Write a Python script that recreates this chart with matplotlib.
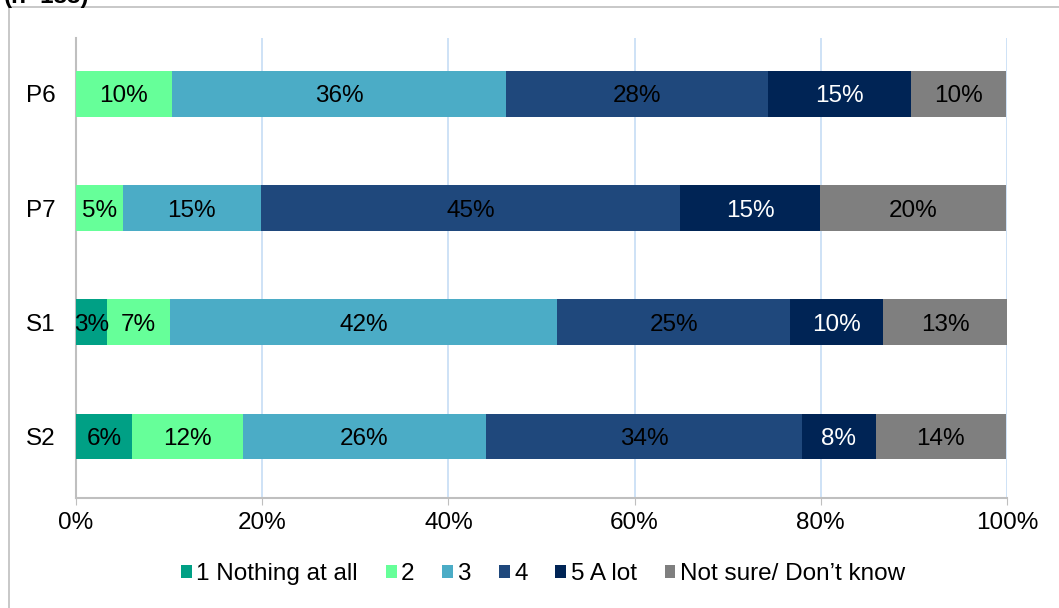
import matplotlib
matplotlib.use("Agg")
import matplotlib.pyplot as plt
from matplotlib.patches import Rectangle, Patch

plt.rcParams['font.family'] = ['Liberation Sans', 'DejaVu Sans']

categories = ["P6", "P7", "S1", "S2"]
series_names = ["1 Nothing at all", "2", "3", "4", "5 A lot", "Not sure/ Don\u2019t know"]
values = {
    "1 Nothing at all": [0.0, 0.0, 3.3, 6.0],
    "2": [10.3, 5.0, 6.8, 11.9],
    "3": [35.9, 14.9, 41.6, 26.1],
    "4": [28.1, 45.0, 25.0, 34.0],
    "5 A lot": [15.4, 15.0, 10.0, 7.9],
    "Not sure/ Don\u2019t know": [10.2, 20.0, 13.3, 14.0],
}
colors = ["#00A085", "#66FF99", "#4BACC6", "#1F487C", "#002455", "#7F7F7F"]
label_colors = ["black", "black", "black", "black", "white", "black"]
xticks = [0, 20, 40, 60, 80, 100]

FS = 17.5

fig = plt.figure(figsize=(10.59, 6.08), dpi=100)
ax = fig.add_axes([76 / 1059, 1 - 498 / 608, (1007 - 76) / 1059, (498 - 38) / 608])

# outer chart frame
fig.patches.append(Rectangle((8.5 / 1059, -0.05), 1.2, 1 - 6.5 / 608 + 0.05,
                             transform=fig.transFigure, fill=False,
                             edgecolor="#BFBFBF", linewidth=1.2, zorder=0))
fig.text(4 / 1059, 1 - 3 / 608, "(n=183)", fontsize=FS, fontweight="bold",
         ha="left", va="baseline")

ypos = list(range(len(categories)))
left = [0.0] * len(categories)
for name, color, lc in zip(series_names, colors, label_colors):
    vals = values[name]
    ax.barh(ypos, vals, left=left, height=0.4, color=color, zorder=3)
    for y, v, l in zip(ypos, vals, left):
        if v > 0:
            ax.text(l + v / 2, y, f"{v:.0f}%", ha="center", va="center_baseline",
                    fontsize=FS, color=lc, zorder=4)
    left = [a + b for a, b in zip(left, vals)]

ax.set_xlim(0, 100)
ax.set_ylim(3.54, -0.49)
ax.set_yticks(ypos)
ax.set_yticklabels(categories, fontsize=FS)
ax.set_xticks(xticks)
ax.set_xticklabels([f"{t}%" for t in xticks], fontsize=FS)
ax.tick_params(axis="y", length=0, pad=15)
ax.tick_params(axis="x", length=5, color="#BFBFBF", pad=5)
ax.xaxis.grid(True, color="#C6DDF5", linewidth=1.2, zorder=0)
ax.set_axisbelow(True)
for s in ["top", "right"]:
    ax.spines[s].set_visible(False)
for s in ["left", "bottom"]:
    ax.spines[s].set_color("#BFBFBF")
    ax.spines[s].set_linewidth(1.5)

handles = [Patch(facecolor=c, edgecolor="none") for c in colors]
fig.legend(handles, series_names, loc="center", bbox_to_anchor=(543 / 1059, 1 - 574 / 608),
           ncol=6, frameon=False, fontsize=FS, handlelength=0.45, handleheight=0.45,
           handletextpad=0.17, columnspacing=1.15)

fig.savefig("out.png", dpi=100)
